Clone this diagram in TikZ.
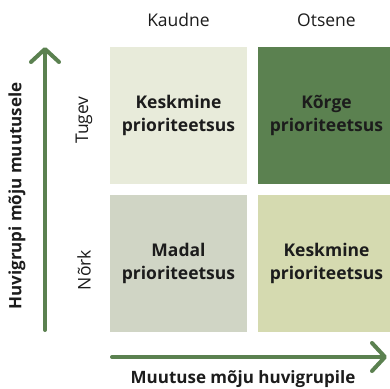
\documentclass[tikz,border=0pt]{standalone}
\usepackage{fontspec}
\setmainfont{Open Sans}
\usetikzlibrary{arrows.meta}
\definecolor{pale}{HTML}{E8EBDA}
\definecolor{deepgreen}{HTML}{5B8150}
\definecolor{greygreen}{HTML}{D0D5C5}
\definecolor{olivepale}{HTML}{D5DAB0}
\definecolor{ink}{HTML}{1C1C1C}
\begin{document}
\begin{tikzpicture}[x=1pt,y=1pt,
  cell/.style={minimum width=137pt,minimum height=137pt,inner sep=0pt,
    align=center,font=\fontsize{17.5}{23}\selectfont\bfseries,text=ink},
  axis/.style={draw=deepgreen,line width=4pt,line cap=round,
    -{Straight Barb[length=13pt,width=28pt,round]}},
  head/.style={font=\fontsize{17.5}{19}\selectfont,text=ink},
  axislabel/.style={font=\fontsize{17}{19}\selectfont\bfseries,text=ink}]
\clip (0,0) rectangle (390,388);
\fill[white] (0,0) rectangle (390,388);
% priority grid
\node[cell,fill=pale] (tl) at (178.5,272.5) {Keskmine\\prioriteetsus};
\node[cell,fill=deepgreen] (tr) at (326.5,272.5) {Kõrge\\prioriteetsus};
\node[cell,fill=greygreen] (bl) at (178.5,124.5) {Madal\\prioriteetsus};
\node[cell,fill=olivepale] (br) at (326.5,124.5) {Keskmine\\prioriteetsus};
% column and row headings
\node[head] (kaudne) at (178.5,368) {Kaudne};
\node[head] (otsene) at (326.5,368) {Otsene};
\node[head,rotate=90] (tugev) at (84,268) {Tugev};
\node[head,rotate=90] (nork) at (84,118) {Nõrk};
% axes
\coordinate (ystart) at (45,58);
\coordinate (yend) at (45,341);
\coordinate (xstart) at (112,31);
\coordinate (xend) at (387,31);
\draw[axis] (ystart) -- (yend);
\draw[axis] (xstart) -- (xend);
\node[axislabel,rotate=90] (ylab) at (17,192) {Huvigrupi mõju muutusele};
\node[axislabel] (xlab) at (243,9) {Muutuse mõju huvigrupile};
\end{tikzpicture}
\end{document}
